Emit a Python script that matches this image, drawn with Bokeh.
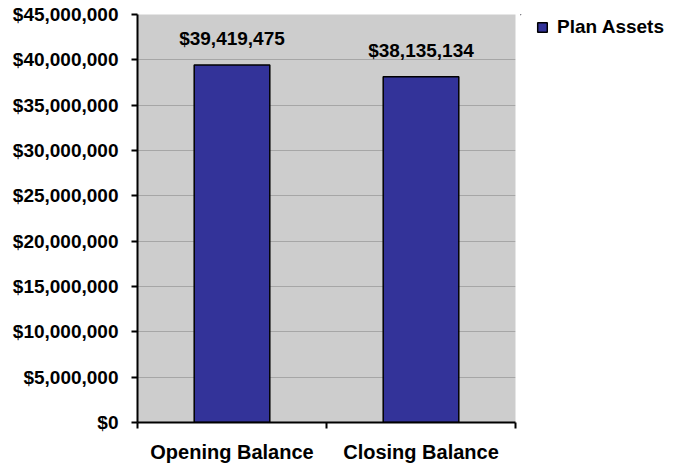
from bokeh.plotting import figure
from bokeh.layouts import row
from bokeh.models import (ColumnDataSource, Range1d, FixedTicker, LinearAxis,
                          NumeralTickFormatter, LabelSet, Legend, LegendItem)
from bokeh.core.properties import value
from bokeh.embed import file_html
from bokeh.resources import INLINE

categories = ["Opening Balance", "Closing Balance"]
plan_assets = [39419475, 38135134]
bar_labels = ["$39,419,475", "$38,135,134"]
y_ticks = [0, 5000000, 10000000, 15000000, 20000000, 25000000,
           30000000, 35000000, 40000000, 45000000]
series_name = "Plan Assets"

FONT = "Liberation Sans"
BAR_COLOR = "#333399"

xpos = [i + 0.5 for i in range(len(categories))]
src = ColumnDataSource(dict(x=xpos, top=plan_assets, label=bar_labels))

p = figure(width=520, height=466, output_backend="svg", toolbar_location=None,
           x_range=Range1d(0, len(categories)), y_range=Range1d(0, 45000000),
           x_axis_location=None, y_axis_location=None,
           min_border_left=137, min_border_right=5, min_border_top=14,
           min_border_bottom=44)
p.outline_line_color = None
p.background_fill_color = "#cdcdcd"
p.border_fill_color = "white"

r = p.vbar(x="x", top="top", width=0.4, source=src, fill_color=BAR_COLOR,
           line_color="black", line_width=1.5)

# y axis
yax = LinearAxis(ticker=FixedTicker(ticks=y_ticks),
                 formatter=NumeralTickFormatter(format="$0,0"))
yax.axis_line_width = 2
yax.axis_line_color = "black"
yax.major_tick_line_width = 2
yax.major_tick_out = 6
yax.major_tick_in = 0
yax.minor_tick_line_color = None
yax.major_label_text_font = FONT
yax.major_label_text_font_style = "bold"
yax.major_label_text_font_size = "19px"
yax.major_label_text_color = "black"
yax.major_label_standoff = 13
p.add_layout(yax, "left")

# x axis with ticks at category boundaries
bounds = list(range(len(categories) + 1))
xax = LinearAxis(ticker=FixedTicker(ticks=bounds),
                 major_label_overrides={b: "" for b in bounds})
xax.axis_line_width = 2
xax.axis_line_color = "black"
xax.major_tick_line_width = 2
xax.major_tick_out = 6
xax.major_tick_in = 0
xax.minor_tick_line_color = None
xax.major_label_text_font_size = "1px"
xax.major_label_standoff = 0
p.add_layout(xax, "below")

# x category labels at centers
xlab = LinearAxis(ticker=FixedTicker(ticks=xpos),
                  major_label_overrides={x: c for x, c in zip(xpos, categories)})
xlab.axis_line_color = None
xlab.major_tick_line_color = None
xlab.major_tick_out = 0
xlab.major_tick_in = 0
xlab.minor_tick_line_color = None
xlab.major_label_text_font = FONT
xlab.major_label_text_font_style = "bold"
xlab.major_label_text_font_size = "20px"
xlab.major_label_text_color = "black"
xlab.major_label_standoff = 12
p.add_layout(xlab, "below")

p.xgrid.visible = False
p.ygrid.ticker = FixedTicker(ticks=y_ticks)
p.ygrid.grid_line_color = "#a6a6a6"
p.ygrid.grid_line_width = 1

labels = LabelSet(x="x", y="top", text="label", source=src,
                  text_align="center", text_baseline="alphabetic",
                  y_offset=20, text_font=value(FONT), text_font_style="bold",
                  text_font_size="19px", text_color="black")
p.add_layout(labels)

# legend panel to the right (its bars lie outside its view, only the legend shows)
p2 = figure(width=165, height=466, output_backend="svg", toolbar_location=None,
            x_range=Range1d(10, 11), y_range=Range1d(-2, -1),
            x_axis_location=None, y_axis_location=None,
            min_border_left=0, min_border_right=0, min_border_top=0,
            min_border_bottom=0)
p2.outline_line_color = None
p2.grid.visible = False
p2.background_fill_color = "white"
r2 = p2.vbar(x="x", top="top", width=0.4, source=src, fill_color=BAR_COLOR,
             line_color="black", line_width=1.5)

legend = Legend(items=[LegendItem(label=series_name, renderers=[r2])],
                location=(16, 384), orientation="vertical")
legend.border_line_color = None
legend.background_fill_alpha = 0
legend.glyph_width = 12
legend.glyph_height = 12
legend.label_standoff = 9
legend.label_text_font = FONT
legend.label_text_font_style = "bold"
legend.label_text_font_size = "19px"
legend.label_text_color = "black"
legend.margin = 0
legend.padding = 0
legend.spacing = 0
p2.add_layout(legend)

layout = row(p, p2, spacing=0)
open("out.html", "w").write(file_html(layout, INLINE))
